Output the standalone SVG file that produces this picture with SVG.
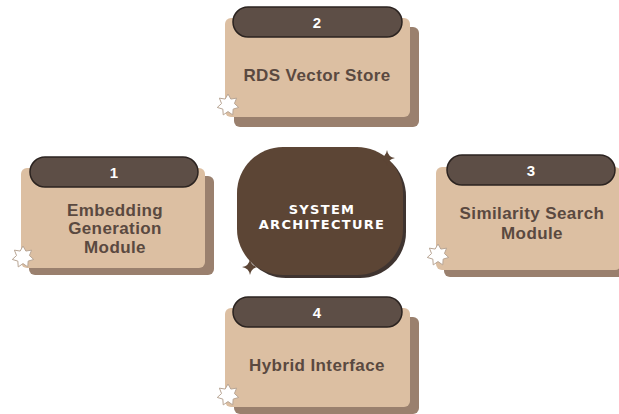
<svg xmlns="http://www.w3.org/2000/svg" xmlns:xlink="http://www.w3.org/1999/xlink" width="619" height="414" viewBox="0 0 619 414">
<defs>
<style>
.shadow{fill:#9a806e}
.card{fill:#dcbfa2}
.pill{fill:#5d4e46;stroke:#2b2320;stroke-width:1.5}
.num{font-family:"Liberation Sans",Arial,sans-serif;font-weight:bold;font-size:15px;fill:#ffffff;text-anchor:middle}
.lbl{font-family:"Liberation Sans",Arial,sans-serif;font-weight:bold;font-size:17px;letter-spacing:0.4px;fill:#5a4940;text-anchor:middle}
.ctr{font-family:"DejaVu Sans","Liberation Sans",sans-serif;font-weight:bold;font-size:13px;fill:#ffffff;text-anchor:middle;letter-spacing:1.3px}
.star{fill:#ffffff;stroke:#b8a594;stroke-width:1;stroke-linejoin:round}
.spark{fill:#5c4535}
</style>
<path id="star7" class="star" d="M0,-11 L2.86,-5.95 L8.6,-6.85 L6.44,-1.47 L10.72,2.45 L5.16,4.11 L4.77,9.91 L0,6.6 L-4.77,9.91 L-5.16,4.11 L-10.72,2.45 L-6.44,-1.47 L-8.6,-6.85 L-2.86,-5.95 Z"/>
<path id="spark" class="spark" d="M0,-8 Q1,-1 8,0 Q1,1 0,8 Q-1,1 -8,0 Q-1,-1 0,-8 Z"/>
</defs>

<g id="connectors"></g>

<g id="node-center">
<rect x="240" y="150" width="166" height="128" rx="46" fill="#3f3430"/>
<rect x="237" y="147" width="166" height="128" rx="46" fill="#5c4535"/>
<text class="ctr" x="322" y="214">SYSTEM</text>
<text class="ctr" x="322" y="229">ARCHITECTURE</text>
<use xlink:href="#spark" x="387" y="158"/>
<use xlink:href="#spark" x="250" y="267"/>
</g>

<g id="node-2">
<rect class="shadow" x="234" y="27" width="185" height="100" rx="6"/>
<rect class="card" x="225" y="18" width="185" height="99" rx="6"/>
<rect class="pill" x="233" y="7" width="169" height="30" rx="15"/>
<text class="num" x="317" y="28">2</text>
<text class="lbl" x="317" y="81">RDS Vector Store</text>
<use xlink:href="#star7" x="228" y="105"/>
</g>

<g id="node-1">
<rect class="shadow" x="29" y="176" width="185" height="99" rx="6"/>
<rect class="card" x="21" y="168" width="184" height="100" rx="6"/>
<rect class="pill" x="30" y="157" width="168" height="30" rx="15"/>
<text class="num" x="114" y="178">1</text>
<text class="lbl" x="115" y="216">Embedding</text>
<text class="lbl" x="115" y="234">Generation</text>
<text class="lbl" x="115" y="253">Module</text>
<use xlink:href="#star7" x="23" y="257"/>
</g>

<g id="node-3">
<rect class="shadow" x="444" y="175" width="185" height="102" rx="6"/>
<rect class="card" x="436" y="167" width="185" height="103" rx="6"/>
<rect class="pill" x="447" y="155" width="168" height="30" rx="15"/>
<text class="num" x="531" y="176">3</text>
<text class="lbl" x="532" y="219">Similarity Search</text>
<text class="lbl" x="532" y="239">Module</text>
<use xlink:href="#star7" x="438" y="255"/>
</g>

<g id="node-4">
<rect class="shadow" x="234" y="317" width="185" height="97" rx="6"/>
<rect class="card" x="225" y="308" width="185" height="99" rx="6"/>
<rect class="pill" x="233" y="297" width="169" height="30" rx="15"/>
<text class="num" x="317" y="318">4</text>
<text class="lbl" x="317" y="371">Hybrid Interface</text>
<use xlink:href="#star7" x="228" y="395"/>
</g>
</svg>
